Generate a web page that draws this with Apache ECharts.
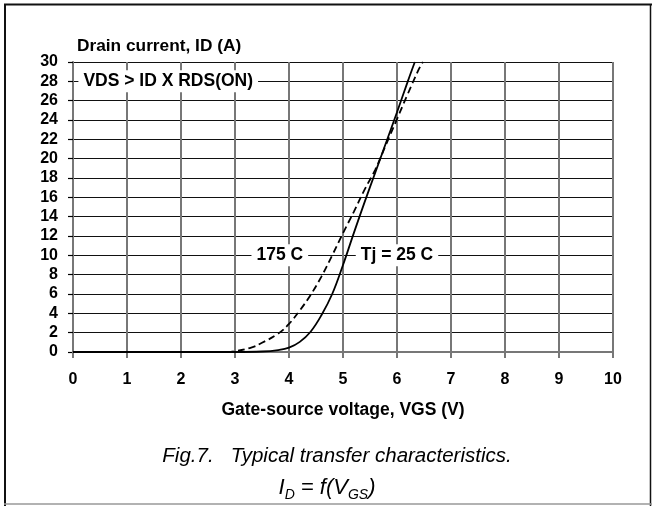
<!DOCTYPE html>
<html>
<head>
<meta charset="utf-8">
<script src="https://cdn.jsdelivr.net/npm/echarts@6/dist/echarts.min.js"></script>
<style>html,body{margin:0;padding:0;background:#fff;}#c{width:652px;height:506px;}</style>
</head>
<body>
<div id="c"></div>
<script>
// Data
const vgs25 = [0, 1, 2, 3, 3.5, 3.8, 4.0, 4.2, 4.4, 4.6, 4.8, 5.0, 5.2, 5.4, 5.6, 5.8, 6.0, 6.2, 6.33];
const id25  = [0, 0, 0, 0, 0.05, 0.2, 0.45, 1.05, 2.1, 3.8, 6.0, 9.0, 12.3, 15.5, 18.6, 21.7, 24.8, 28.0, 30];
const vgs175 = [0, 1, 2, 2.8, 3.0, 3.3, 3.5, 3.8, 4.0, 4.2, 4.4, 4.6, 4.8, 5.0, 5.2, 5.4, 5.6, 5.8, 6.0, 6.2, 6.4, 6.48];
const id175  = [0, 0, 0, 0, 0.08, 0.45, 0.95, 1.9, 2.9, 4.3, 5.9, 7.8, 10.0, 12.3, 14.5, 16.8, 18.9, 21.5, 24.1, 26.7, 29.2, 30];
const xTicks = [0, 1, 2, 3, 4, 5, 6, 7, 8, 9, 10];
const yTicks = [0, 2, 4, 6, 8, 10, 12, 14, 16, 18, 20, 22, 24, 26, 28, 30];
const annotations = [
  {text: 'VDS > ID X RDS(ON)', x: 0.1, y: 28, align: 'left'},
  {text: '175 C', x: 3.83, y: 10, align: 'center'},
  {text: 'Tj = 25 C', x: 6.0, y: 10, align: 'center'}
];
const yAxisName = 'Drain current, ID (A)';
const xAxisName = 'Gate-source voltage, VGS (V)';
const caption1 = 'Fig.7.   Typical transfer characteristics.';

const FONT = '"Liberation Sans", Arial, sans-serif';
const chart = echarts.init(document.getElementById('c'));
const pair = (xs, ys) => xs.map((v, i) => [v, ys[i]]);

chart.setOption({
  animation: false,
  backgroundColor: '#fff',
  grid: {left: 73, right: 39, top: 62, bottom: 154, containLabel: false},
  xAxis: {
    type: 'value', min: xTicks[0], max: xTicks[xTicks.length - 1], interval: 1,
    axisLine: {show: true, lineStyle: {color: '#777', width: 2}},
    axisTick: {show: true, length: 6, lineStyle: {color: '#777', width: 2}},
    axisLabel: {margin: 20, color: '#000', fontFamily: FONT, fontWeight: 'bold', fontSize: 16},
    splitLine: {show: true, lineStyle: {color: '#777', width: 2}}
  },
  yAxis: {
    type: 'value', min: yTicks[0], max: yTicks[yTicks.length - 1], interval: 2,
    axisLine: {show: true, lineStyle: {color: '#777', width: 2}},
    axisTick: {show: true, length: 5, lineStyle: {color: '#000', width: 1.2}},
    axisLabel: {margin: 15, color: '#000', fontFamily: FONT, fontWeight: 'bold', fontSize: 16},
    splitLine: {show: true, lineStyle: {color: '#111', width: 1.2}}
  },
  series: [
    {type: 'line', name: '25 C', data: pair(vgs25, id25), smooth: 0.4, symbol: 'none',
     lineStyle: {color: '#000', width: 1.8}, z: 5},
    {type: 'line', name: '175 C', data: pair(vgs175, id175), smooth: 0.4, symbol: 'none',
     lineStyle: {color: '#000', width: 1.8, type: [7, 4]}, z: 5}
  ]
});

const g = [];
annotations.forEach(a => {
  const p = chart.convertToPixel({gridIndex: 0}, [a.x, a.y]);
  g.push({type: 'text', x: p[0], y: p[1], z: 10,
    style: {text: a.text, fill: '#000', font: 'bold 17.5px ' + FONT,
      align: a.align, verticalAlign: 'middle', backgroundColor: '#fff', padding: [2, 5, 2, 5]}});
});
g.push({type: 'text', x: 77, y: 46, z: 10,
  style: {text: yAxisName, fill: '#000', font: 'bold 17.3px ' + FONT, align: 'left', verticalAlign: 'middle'}});
g.push({type: 'text', x: 343, y: 410, z: 10,
  style: {text: xAxisName, fill: '#000', font: 'bold 17.5px ' + FONT, align: 'center', verticalAlign: 'middle'}});
g.push({type: 'text', x: 337, y: 456, z: 10,
  style: {text: caption1, fill: '#000', font: 'italic 20.5px ' + FONT, align: 'center', verticalAlign: 'middle'}});
g.push({type: 'text', x: 327, y: 488, z: 10,
  style: {text: '{m|I}{s|D}{m| = f(V}{s|GS}{m|)}', fill: '#000', align: 'center', verticalAlign: 'middle',
    rich: {
      m: {fontFamily: FONT, fontStyle: 'italic', fontSize: 22, lineHeight: 28, verticalAlign: 'middle', color: '#000'},
      s: {fontFamily: FONT, fontStyle: 'italic', fontSize: 14, lineHeight: 28, verticalAlign: 'bottom', color: '#000'}
    }}});
// frame
g.push({type: 'line', shape: {x1: 4, y1: 4.5, x2: 652, y2: 4.5}, style: {stroke: '#111', lineWidth: 2}});
g.push({type: 'line', shape: {x1: 5, y1: 4, x2: 5, y2: 506}, style: {stroke: '#111', lineWidth: 2}});
g.push({type: 'line', shape: {x1: 650.5, y1: 4, x2: 650.5, y2: 506}, style: {stroke: '#111', lineWidth: 1.5}});
g.push({type: 'line', shape: {x1: 4, y1: 504, x2: 652, y2: 504}, style: {stroke: '#999', lineWidth: 1.5}});
chart.setOption({graphic: g});
</script>
</body>
</html>
